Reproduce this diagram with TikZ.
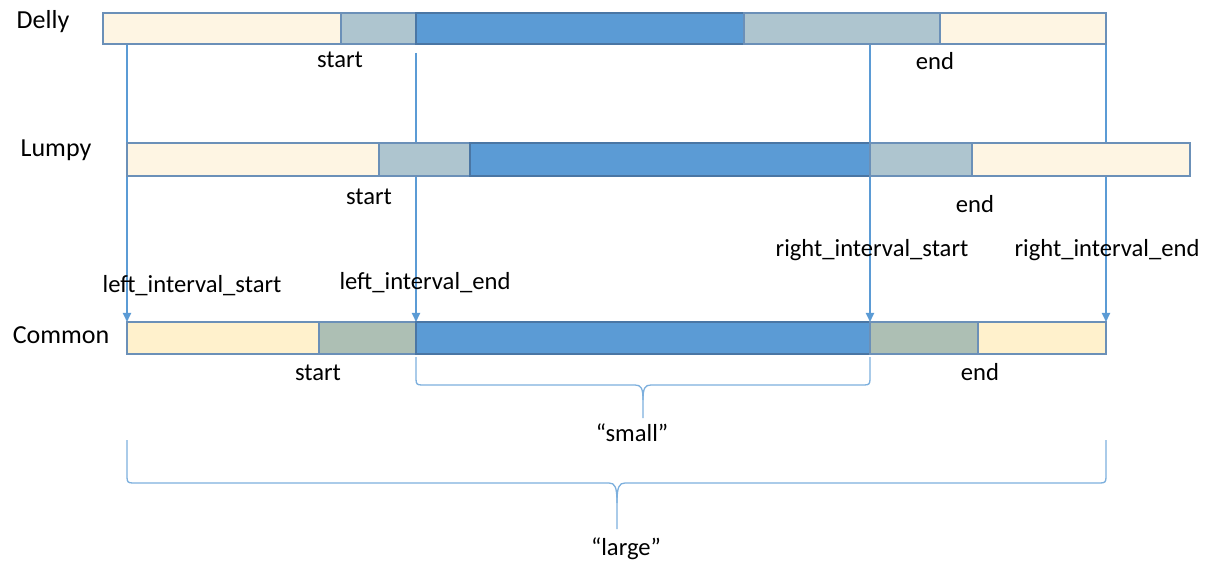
\documentclass[tikz,border=0pt]{standalone}
\usepackage{fontspec}
\setmainfont{Carlito}
\usetikzlibrary{arrows.meta}

\definecolor{creamA}{HTML}{FEF5E3}
\definecolor{creamB}{HTML}{FFF1CC}
\definecolor{greyA}{HTML}{AEC5CF}
\definecolor{greyB}{HTML}{ADBFB4}
\definecolor{midblue}{HTML}{5B9BD5}
\definecolor{edgeblue}{HTML}{6B90B8}
\definecolor{darkedge}{HTML}{4A76A4}

\tikzset{
  seg/.style={draw=edgeblue, line width=1.1pt},
  core/.style={draw=darkedge, line width=1.1pt, fill=midblue},
  link/.style={draw=midblue, line width=1.8pt, -{Triangle[length=9pt,width=8pt]}},
  brace/.style={draw=midblue!80, line width=1.3pt},
  lbl/.style={font=\fontsize{24.6}{28}\selectfont, anchor=base, inner sep=0pt},
  rowname/.style={font=\fontsize{26}{30}\selectfont, anchor=base, inner sep=0pt}
}

\begin{document}
\begin{tikzpicture}[x=1pt, y=-1pt]
  \useasboundingbox (0,0) rectangle (1211,564);

  % Coordinates for the four interval borders
  \coordinate (dA) at (127,44);
  \coordinate (dB) at (416,53);
  \coordinate (dC) at (870,44);
  \coordinate (dD) at (1106,44);
  \coordinate (cA) at (127,322);
  \coordinate (cB) at (416,322);
  \coordinate (cC) at (870,322);
  \coordinate (cD) at (1106,322);

  % Projection lines (draw before the bars)
  \draw[link] (dA) -- (cA);
  \draw[link] (dB) -- (cB);
  \draw[link] (dC) -- (cC);
  \draw[link] (dD) -- (cD);

  % Delly bar
  \filldraw[seg, fill=creamA] (103,13) rectangle (341,44);
  \filldraw[seg, fill=greyA] (341,13) rectangle (416,44);
  \filldraw[core] (416,13) rectangle (744,44);
  \filldraw[seg, fill=greyA] (744,13) rectangle (940,44);
  \filldraw[seg, fill=creamA] (940,13) rectangle (1106,44);

  % Lumpy bar
  \filldraw[seg, fill=creamA] (127,143) rectangle (379,176);
  \filldraw[seg, fill=greyA] (379,143) rectangle (470,176);
  \filldraw[core] (470,143) rectangle (870,176);
  \filldraw[seg, fill=greyA] (870,143) rectangle (972,176);
  \filldraw[seg, fill=creamA] (972,143) rectangle (1190,176);

  % Common bar
  \filldraw[seg, fill=creamB] (127,322) rectangle (319,354);
  \filldraw[seg, fill=greyB] (319,322) rectangle (416,354);
  \filldraw[core] (416,322) rectangle (870,354);
  \filldraw[seg, fill=greyB] (870,322) rectangle (978,354);
  \filldraw[seg, fill=creamB] (978,322) rectangle (1106,354);

  % Row names
  \node[rowname] (delly) at (43,29) {Delly};
  \node[rowname] (lumpy) at (56,157) {Lumpy};
  \node[rowname] (common) at (61,343) {Common};

  % start / end labels
  \node[lbl] (dstart) at (340,68) {start};
  \node[lbl] (dend) at (935,70) {end};
  \node[lbl] (lstart) at (369,205) {start};
  \node[lbl] (lend) at (975,213) {end};
  \node[lbl] (cstart) at (318,380) {start};
  \node[lbl] (cend) at (980,380) {end};

  % Interval border labels
  \node[lbl] (lis) at (192,293) {left\_interval\_start};
  \node[lbl] (lie) at (425,290) {left\_interval\_end};
  \node[lbl] (ris) at (872,257) {right\_interval\_start};
  \node[lbl] (rie) at (1107,257) {right\_interval\_end};

  % "small" brace
  \draw[brace] (416,357) -- (416,379) .. controls (416,384) and (417,385) .. (422,385)
    -- (635,385) .. controls (641,385) and (643,388) .. (643,400) -- (643,418);
  \draw[brace] (643,400) .. controls (643,388) and (645,385) .. (651,385)
    -- (864,385) .. controls (869,385) and (870,384) .. (870,379) -- (870,357);
  \node[lbl] (small) at (632,441) {“small”};

  % "large" brace
  \draw[brace] (127,440) -- (127,477) .. controls (127,482) and (128,483) .. (133,483)
    -- (609,483) .. controls (615,483) and (617,487) .. (617,503) -- (617,529);
  \draw[brace] (617,503) .. controls (617,487) and (619,483) .. (625,483)
    -- (1100,483) .. controls (1105,483) and (1106,482) .. (1106,477) -- (1106,440);
  \node[lbl] (large) at (626,555) {“large”};

\end{tikzpicture}
\end{document}
